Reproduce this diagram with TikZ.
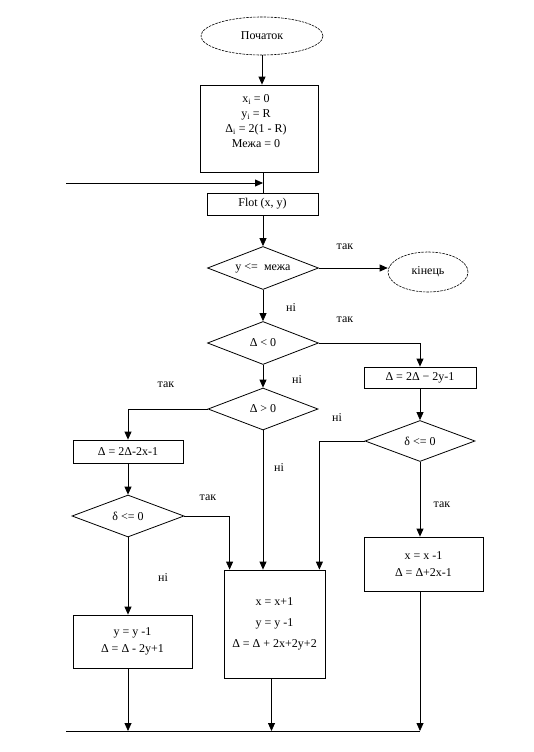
\documentclass[tikz,border=0pt]{standalone}
\usepackage{fontspec}
\setmainfont{Liberation Serif}
\usetikzlibrary{arrows.meta,shapes.geometric}
\begin{document}
\begin{tikzpicture}[x=1pt,y=-1pt,
  font=\fontsize{12}{14}\selectfont,
  ln/.style={line width=0.8pt},
  arr/.style={ln,-{Triangle[length=8pt,width=7pt]}},
  box/.style={draw,ln,rectangle,inner sep=0pt},
  dia/.style={draw,ln,diamond,shape aspect=2.6,inner sep=0pt},
  term/.style={draw,line width=0.6pt,ellipse,inner sep=0pt,dash pattern=on 2.5pt off 1pt},
  lbl/.style={inner sep=0pt},
  txt/.style={inner sep=0pt,align=center}]
\useasboundingbox (0,0) rectangle (533,752);
% terminals
\node[term,minimum width=122pt,minimum height=38pt] (start) at (262,36) {Початок};
\node[term,minimum width=80pt,minimum height=40pt] (end) at (428,272) {кінець};
% init block
\node[box,minimum width=118pt,minimum height=87pt] (init) at (259,128.5) {};
\node[txt] (inittext) at (256,121) {x\textsubscript{i} = 0\\[1pt] y\textsubscript{i} = R\\[1pt] Δ\textsubscript{i} = 2(1 - R)\\[1pt] Межа = 0};
\node[box,minimum width=111pt,minimum height=22pt] (flot) at (262.5,204) {Flot (x, y)};
% decisions
\node[dia,minimum width=111pt,minimum height=43pt] (d1) at (263,268) {y <=\ \ межа};
\node[dia,minimum width=111pt,minimum height=43pt] (d2) at (263,343) {Δ < 0};
\node[dia,minimum width=110pt,minimum height=42pt] (d3) at (263,409) {Δ > 0};
\node[dia,minimum width=110pt,minimum height=41pt] (d4) at (420,441) {δ <= 0};
\node[dia,minimum width=112pt,minimum height=42pt] (d5) at (128,516) {δ <= 0};
% process boxes
\node[box,minimum width=112pt,minimum height=21pt] (r1) at (420,377.5) {Δ = 2Δ − 2y-1};
\node[box,minimum width=119pt,minimum height=54pt,align=center] (r2) at (423.5,564) {x = x -1\\[3pt] Δ = Δ+2x-1};
\node[box,minimum width=110pt,minimum height=23pt] (l1) at (128,451.5) {Δ = 2Δ-2x-1};
\node[box,minimum width=119pt,minimum height=53pt,align=center] (l2) at (132.5,641.5) {y = y -1\\[3pt] Δ = Δ - 2y+1};
\node[box,minimum width=101pt,minimum height=108pt,align=center] (x1) at (274.5,624) {x = x+1\\[7pt] y = y -1\\[7pt] Δ = Δ + 2x+2y+2};
% coordinates
\coordinate (inL) at (66,183);
\coordinate (join) at (263,183);
\coordinate (bL) at (66,731);
\coordinate (bR) at (420,731);
\coordinate (x1out) at ([xshift=-3pt]x1.south);
\coordinate (x1a) at ([xshift=6pt]x1.north west);
\coordinate (x1c) at ([xshift=-6pt]x1.north east);
% connectors
\draw[arr] (start.south) -- (init.north -| start.south);
\draw[ln] (init.south -| join) -- (flot.north -| join);
\draw[arr] (inL) -- (join);
\draw[arr] (flot.south -| d1.north) -- (d1.north);
\draw[arr] (d1.east) -- (d1.east -| end.west);
\draw[arr] (d1.south) -- (d2.north);
\draw[arr] (d2.east) -| (r1.north);
\draw[arr] (r1.south) -- (d4.north);
\draw[arr] (d4.south) -- (r2.north -| d4.south);
\draw[arr] (d4.west) -| (x1c);
\draw[arr] (d2.south) -- (d3.north);
\draw[arr] (d3.west) -| (l1.north);
\draw[arr] (d3.south) -- (x1.north -| d3.south);
\draw[arr] (l1.south) -- (d5.north);
\draw[arr] (d5.east) -| (x1a);
\draw[arr] (d5.south) -- (l2.north -| d5.south);
\draw[ln] (bL) -- (bR);
\draw[arr] (l2.south -| d5.south) -- (bL -| d5.south);
\draw[arr] (x1out) -- (bL -| x1out);
\draw[arr] (r2.south -| d4.south) -- (bR);
% labels
\node[lbl] (t1) at (345,247) {так};
\node[lbl] (n1) at (291,308) {ні};
\node[lbl] (t2) at (345,320) {так};
\node[lbl] (n2) at (297,380) {ні};
\node[lbl] (t3) at (166,385) {так};
\node[lbl] (n4) at (337,418) {ні};
\node[lbl] (n3) at (279,468) {ні};
\node[lbl] (t5) at (208,498) {так};
\node[lbl] (t4) at (442,505) {так};
\node[lbl] (n5) at (163,578) {ні};
\end{tikzpicture}
\end{document}
